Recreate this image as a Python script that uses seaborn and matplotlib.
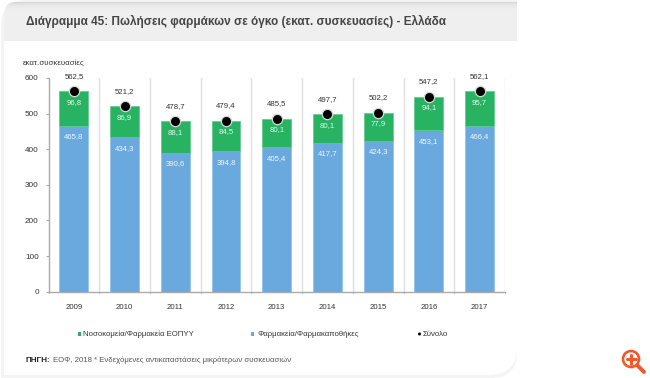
import matplotlib
matplotlib.use("Agg")
import matplotlib.pyplot as plt
from matplotlib.patches import FancyBboxPatch, Rectangle, Circle
from matplotlib.lines import Line2D
import seaborn as sns
import numpy as np

years = ["2009", "2010", "2011", "2012", "2013", "2014", "2015", "2016", "2017"]
pharmacies = [465.8, 434.3, 390.6, 394.8, 405.4, 417.7, 424.3, 453.1, 466.4]
hospitals = [96.8, 86.9, 88.1, 84.5, 80.1, 80.1, 77.9, 94.1, 95.7]
totals = [562.5, 521.2, 478.7, 479.4, 485.5, 497.7, 502.2, 547.2, 562.1]
y_ticks = [0, 100, 200, 300, 400, 500, 600]

title = "Διάγραμμα 45: Πωλήσεις φαρμάκων σε όγκο (εκατ. συσκευασίες) - Ελλάδα"
y_unit = "εκατ.συσκευασίες"
legend_names = ["Νοσοκομεία/Φαρμακεία ΕΟΠΥΥ", "Φαρμακεία/Φαρμακαποθήκες", "Σύνολο"]
source_bold = "ΠΗΓΗ:"
source_text = "ΕΟΦ, 2018 * Ενδεχόμενες αντικαταστάσεις μικρότερων συσκευασιών"

GREEN = "#27b362"
BLUE = "#6aa9de"
W, H = 650, 378

sns.set_theme(style="white")
plt.rcParams["font.family"] = ["Liberation Sans", "DejaVu Sans"]

fig = plt.figure(figsize=(W / 100, H / 100), dpi=100, facecolor="white")

# page furniture in pixel coordinates
bg = fig.add_axes([0, 0, 1, 1], zorder=0)
bg.set_xlim(0, W)
bg.set_ylim(H, 0)
bg.axis("off")

# soft outer shadow
bg.add_patch(FancyBboxPatch((1, 0), 516, 378, boxstyle="round,pad=0,rounding_size=26",
                            fc="#f4f4f4", ec="none", zorder=1))
bg.add_patch(Rectangle((1, 340), 60, 38, fc="#f4f4f4", ec="none", zorder=1))
bg.add_patch(Rectangle((480, 0), 37, 40, fc="#f4f4f4", ec="none", zorder=1))
# white card, large radius at bottom right
bg.add_patch(FancyBboxPatch((4, 20), 513, 355, boxstyle="round,pad=0,rounding_size=28",
                            fc="white", ec="none", zorder=2))
bg.add_patch(Rectangle((4, 340), 60, 35, fc="white", ec="none", zorder=2))
# grey header, rounded top-left, with a darker band at the top
clip = Rectangle((0, 0), 517, 40.5, transform=bg.transData)
shades = [(1.5, "#d8d8d8"), (2.5, "#dfdfdf"), (3.5, "#e4e4e4"), (4.5, "#e8e8e8"),
          (6, "#ebebeb"), (8, "#eeeeee")]
header_base = FancyBboxPatch((4, 1.5), 640, 80, boxstyle="round,pad=0,rounding_size=14",
                             fc="#efefef", ec="none", zorder=3)
bg.add_patch(header_base)
header_base.set_clip_path(clip)
for top, shade in shades:
    band = Rectangle((4, top), 513, 2, fc=shade, ec="none", zorder=3.1)
    bg.add_patch(band)
    band.set_clip_path(header_base.get_path(), header_base.get_transform())

bg.text(26, 21.5, title, fontsize=8.5, fontweight="bold", color="#454545",
        va="center", ha="left", zorder=4)
bg.text(23, 63, y_unit, fontsize=5.7, color="#333333", va="center", zorder=4)

# legend
bg.add_patch(Rectangle((77.5, 332.3), 3.4, 3.4, fc=GREEN, ec="none", zorder=4))
bg.text(83, 334.3, legend_names[0], fontsize=5.55, color="#333333", va="center", zorder=4)
bg.add_patch(Rectangle((251, 332.3), 3.4, 3.4, fc=BLUE, ec="none", zorder=4))
bg.text(258, 334.3, legend_names[1], fontsize=5.6, color="#333333", va="center", zorder=4)
bg.add_patch(Circle((419.5, 334), 1.5, fc="black", ec="none", zorder=4))
bg.text(423, 334.3, legend_names[2], fontsize=5.6, color="#333333", va="center", zorder=4)

# source
bg.text(26, 360.7, source_bold, fontsize=5.8, fontweight="bold", color="#222222",
        va="center", zorder=4)
bg.text(53, 360.7, source_text, fontsize=5.55, color="#555555", va="center", zorder=4)

# magnifier icon
OR = "#f2592a"
bg.add_patch(Circle((631, 359), 8, fc="white", ec=OR, lw=1.9, zorder=5))
bg.add_line(Line2D([637, 644], [365, 372], color=OR, lw=2.8, zorder=5))
bg.add_line(Line2D([626.5, 635.5], [359, 359], color=OR, lw=2.2, zorder=6))
bg.add_line(Line2D([631, 631], [354.5, 363.5], color=OR, lw=2.2, zorder=6))

# chart axes
ax = fig.add_axes([48.5 / W, 1 - 291.7 / H, 456.5 / W, 213.7 / H], zorder=3)
ax.patch.set_alpha(0)

sns.barplot(x=years, y=pharmacies, color=BLUE, width=0.57, saturation=1, ax=ax,
            edgecolor="#8cc0ea", linewidth=0.5, zorder=3)
sns.barplot(x=years, y=hospitals, bottom=pharmacies, color=GREEN, width=0.57, saturation=1,
            ax=ax, edgecolor="#5cc98c", linewidth=0.5, zorder=3)
sns.stripplot(x=years, y=totals, color="black", size=7.4, jitter=False, linewidth=0.9,
              edgecolor="#d8d8d8", ax=ax, zorder=5)

ax.set_xlim(-0.5, 8.5)
ax.set_ylim(0, 600)
ax.set_yticks(y_ticks)
ax.set_yticklabels([str(v) for v in y_ticks], fontsize=5.9, color="#333333")
ax.set_xticks(np.arange(len(years)))
ax.set_xticklabels(years, fontsize=5.6, color="#333333")
ax.tick_params(axis="y", length=2, width=0.8, color="#aaaaaa", pad=5, left=True)
ax.tick_params(axis="x", length=0, pad=8.5)

for edge in np.arange(0.5, 8.6, 1.0):
    ax.axvline(edge, color="#e0e0e0", lw=1, zorder=1)
for edge in np.arange(-0.5, 8.6, 1.0):
    ax.plot([edge, edge], [0, -5], color="#aaaaaa", lw=0.7, clip_on=False, zorder=1)

for s in ["top", "right"]:
    ax.spines[s].set_visible(False)
for s in ["left", "bottom"]:
    ax.spines[s].set_color("#aaaaaa")
    ax.spines[s].set_linewidth(1)

for i in range(len(years)):
    ax.text(i, pharmacies[i] - 31, f"{pharmacies[i]:.1f}".replace(".", ","), ha="center",
            va="center", fontsize=5.6, color="#f2f6fb", zorder=6)
    ax.text(i, pharmacies[i] + hospitals[i] - 31, f"{hospitals[i]:.1f}".replace(".", ","),
            ha="center", va="center", fontsize=5.6, color="#e8f7ee", zorder=6)
    ax.text(i, totals[i] + 42, f"{totals[i]:.1f}".replace(".", ","), ha="center",
            va="center", fontsize=5.6, color="#333333", zorder=6, clip_on=False)

fig.savefig("out.png", dpi=100, facecolor="white")
